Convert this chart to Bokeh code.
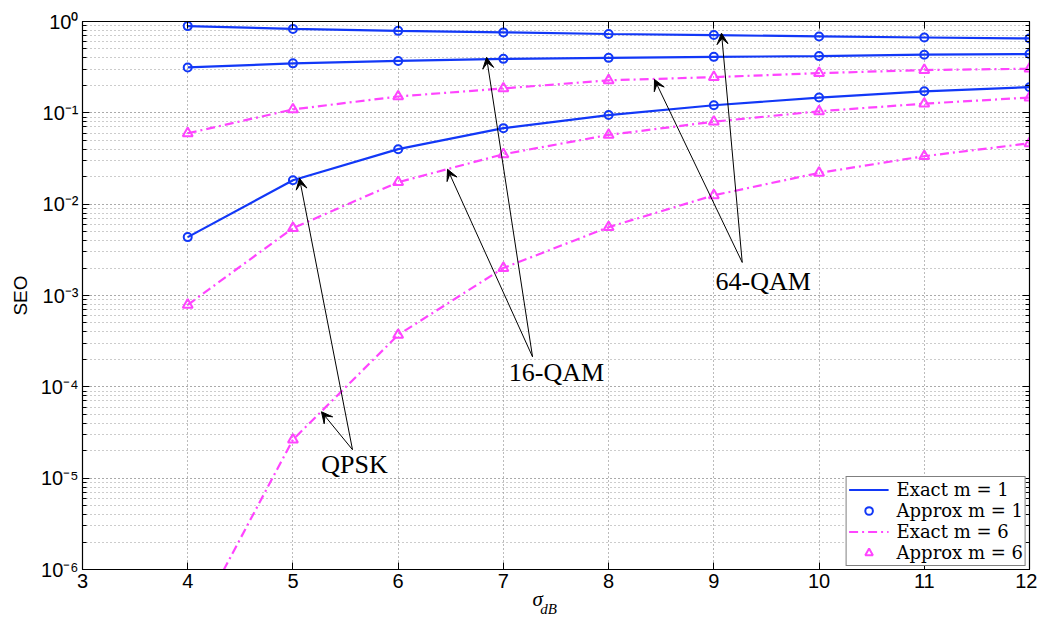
from bokeh.plotting import figure
from bokeh.models import (Range1d, FixedTicker, CustomJSTickFormatter, LogAxis, LinearAxis,
                          Legend, LegendItem, Arrow, VeeHead, Label)
from bokeh.embed import file_html
from bokeh.resources import INLINE

# ---------------- data ----------------
sigma_db = [4, 5, 6, 7, 8, 9, 10, 11, 12]

# m = 1 (blue)
qam64_m1 = [0.89, 0.83, 0.79, 0.76, 0.73, 0.71, 0.686, 0.668, 0.652]
qam16_m1 = [0.314, 0.348, 0.37, 0.39, 0.40, 0.41, 0.418, 0.433, 0.44]
qpsk_m1 = [0.00436, 0.0183, 0.040, 0.068, 0.0946, 0.121, 0.147, 0.172, 0.191]

# m = 6 (magenta)
qam64_m6 = [0.0597, 0.109, 0.151, 0.185, 0.227, 0.246, 0.272, 0.294, 0.304]
qam16_m6 = [7.9e-4, 5.47e-3, 0.0174, 0.0352, 0.0573, 0.080, 0.104, 0.126, 0.147]
qpsk_m6 = [1.8e-7, 2.64e-5, 3.7e-4, 2.0e-3, 5.6e-3, 0.0125, 0.022, 0.0335, 0.0464]

x_ticks = [3, 4, 5, 6, 7, 8, 9, 10, 11, 12]
y_major = [1e-6, 1e-5, 1e-4, 1e-3, 1e-2, 1e-1, 1e0]
y_minor = [k * 10.0 ** e for e in range(-6, 0) for k in range(2, 10)]

legend_labels = ["Exact m = 1", "Approx m = 1", "Exact m = 6", "Approx m = 6"]
x_label_main = "\u03c3"
x_label_sub = "dB"

# annotations: label text, label position, arrow tips
ann_texts = ["64-QAM", "16-QAM", "QPSK"]
ann_x = [9.47, 7.505, 5.585]
ann_y = [1.44e-3, 1.42e-4, 1.41e-5]
tail_x = [9.27, 7.277, 5.566]
tail_y = [2.3e-3, 2.13e-4, 2.05e-5]
tips_x = [[9.073, 8.436], [6.84, 6.469], [5.062, 5.271]]
tips_y = [[0.745, 0.232], [0.405, 0.0241], [0.0192, 5.33e-5]]

BLUE = "#1238f7"
MAG = "#ff44ff"
NB = "\u00a0"

p = figure(width=1037, height=619, y_axis_type="log",
           x_range=Range1d(3, 12), y_range=Range1d(1e-6, 1),
           output_backend="svg", toolbar_location=None,
           min_border_left=82, min_border_right=8, min_border_top=21, min_border_bottom=48)

p.background_fill_color = "white"
p.border_fill_color = "white"
p.outline_line_color = "black"
p.outline_line_width = 1.2

sup = "{'-':'\u207b','0':'\u2070','1':'\u00b9','2':'\u00b2','3':'\u00b3','4':'\u2074','5':'\u2075','6':'\u2076','7':'\u2077','8':'\u2078','9':'\u2079'}"
yfmt = CustomJSTickFormatter(code="""
const m = %s;
const e = Math.round(Math.log10(tick));
return '10' + String(e).split('').map(c => m[c]).join('');
""" % sup)

yticker = FixedTicker(ticks=y_major, minor_ticks=y_minor)
xticker = FixedTicker(ticks=x_ticks, minor_ticks=[])

for ax in p.yaxis:
    ax.ticker = yticker
    ax.formatter = yfmt
for ax in p.xaxis:
    ax.ticker = xticker

for ax in list(p.xaxis) + list(p.yaxis):
    ax.major_tick_in = 7
    ax.major_tick_out = 0
    ax.minor_tick_in = 4
    ax.minor_tick_out = 0
    ax.axis_line_color = "black"
    ax.major_label_text_font = "Liberation Sans"
    ax.major_label_text_font_size = "20px"
    ax.major_label_text_color = "black"
    ax.major_label_standoff = 4

p.yaxis.axis_label = "SEO"
p.yaxis.axis_label_text_font = "Liberation Sans"
p.yaxis.axis_label_text_font_style = "normal"
p.yaxis.axis_label_text_font_size = "19px"
p.yaxis.axis_label_text_color = "black"
p.yaxis.axis_label_standoff = 7

# x-axis label sigma_dB: sigma on the main axis, subscript on a bare second axis
p.xaxis.axis_label = x_label_main + NB * 7
p.xaxis.axis_label_text_font = "Liberation Serif"
p.xaxis.axis_label_text_font_style = "italic"
p.xaxis.axis_label_text_font_size = "21px"
p.xaxis.axis_label_text_color = "black"
p.xaxis.axis_label_standoff = -4

blank = CustomJSTickFormatter(code="return '';")
sub_ax = LinearAxis(ticker=FixedTicker(ticks=[]), formatter=blank, axis_line_color=None,
                    major_tick_in=0, major_tick_out=0, minor_tick_in=0, minor_tick_out=0,
                    major_label_text_font_size="2px", major_label_standoff=0,
                    axis_label=x_label_sub + NB * 4, axis_label_standoff=-13,
                    axis_label_text_font="Liberation Serif", axis_label_text_font_style="italic",
                    axis_label_text_font_size="15px", axis_label_text_color="black")
p.add_layout(sub_ax, "below")

# boxed axes (right and top ticks), without labels
right_ax = LogAxis(ticker=yticker, formatter=blank, major_label_text_font_size="2px", major_label_standoff=0,
                   major_tick_in=7, major_tick_out=0, minor_tick_in=4, minor_tick_out=0)
top_ax = LinearAxis(ticker=xticker, formatter=blank, major_label_text_font_size="2px", major_label_standoff=0,
                    major_tick_in=7, major_tick_out=0, minor_tick_in=0, minor_tick_out=0)
p.add_layout(right_ax, "right")
p.add_layout(top_ax, "above")

# grids
p.xgrid.ticker = xticker
p.xgrid.grid_line_color = "#777777"
p.xgrid.grid_line_dash = "1 3"
p.xgrid.grid_line_width = 1
p.ygrid.ticker = yticker
p.ygrid.grid_line_color = "#555555"
p.ygrid.grid_line_dash = "1 3"
p.ygrid.minor_grid_line_color = "#999999"
p.ygrid.minor_grid_line_dash = "1 3"

# curves
exact1, approx1, exact6, approx6 = [], [], [], []
for ys in [qam64_m1, qam16_m1, qpsk_m1]:
    exact1.append(p.line(sigma_db, ys, line_color=BLUE, line_width=2.2))
    approx1.append(p.scatter(sigma_db, ys, marker="circle", size=8, fill_color=None,
                             line_color=BLUE, line_width=2))
for ys in [qam64_m6, qam16_m6, qpsk_m6]:
    exact6.append(p.line(sigma_db, ys, line_color=MAG, line_width=2.2, line_dash="9 4 2 4"))
    approx6.append(p.scatter(sigma_db, ys, marker="triangle", size=10, fill_color=None,
                             line_color=MAG, line_width=2))

# annotations
for i, t in enumerate(ann_texts):
    for tx, ty in zip(tips_x[i], tips_y[i]):
        p.add_layout(Arrow(x_start=tail_x[i], y_start=tail_y[i], x_end=tx, y_end=ty,
                           line_color="black", line_width=1,
                           end=VeeHead(size=11, fill_color="black", line_color="black", line_width=1)))
    p.add_layout(Label(x=ann_x[i], y=ann_y[i], text=t, text_align="center", text_baseline="middle",
                       text_font="Liberation Serif", text_font_size="26px", text_color="black"))

legend = Legend(items=[
    LegendItem(label=legend_labels[0], renderers=[exact1[0]]),
    LegendItem(label=legend_labels[1], renderers=[approx1[0]]),
    LegendItem(label=legend_labels[2], renderers=[exact6[0]]),
    LegendItem(label=legend_labels[3], renderers=[approx6[0]]),
], location="bottom_right")
legend.margin = 3
legend.padding = 2
legend.spacing = 0
legend.label_text_font = "DejaVu Serif"
legend.label_text_font_size = "18px"
legend.label_text_color = "black"
legend.label_height = 19
legend.glyph_height = 19
legend.glyph_width = 40
legend.label_standoff = 8
legend.border_line_color = "black"
legend.border_line_width = 1.5
legend.background_fill_alpha = 1
p.add_layout(legend)

open("out.html", "w").write(file_html(p, INLINE))
